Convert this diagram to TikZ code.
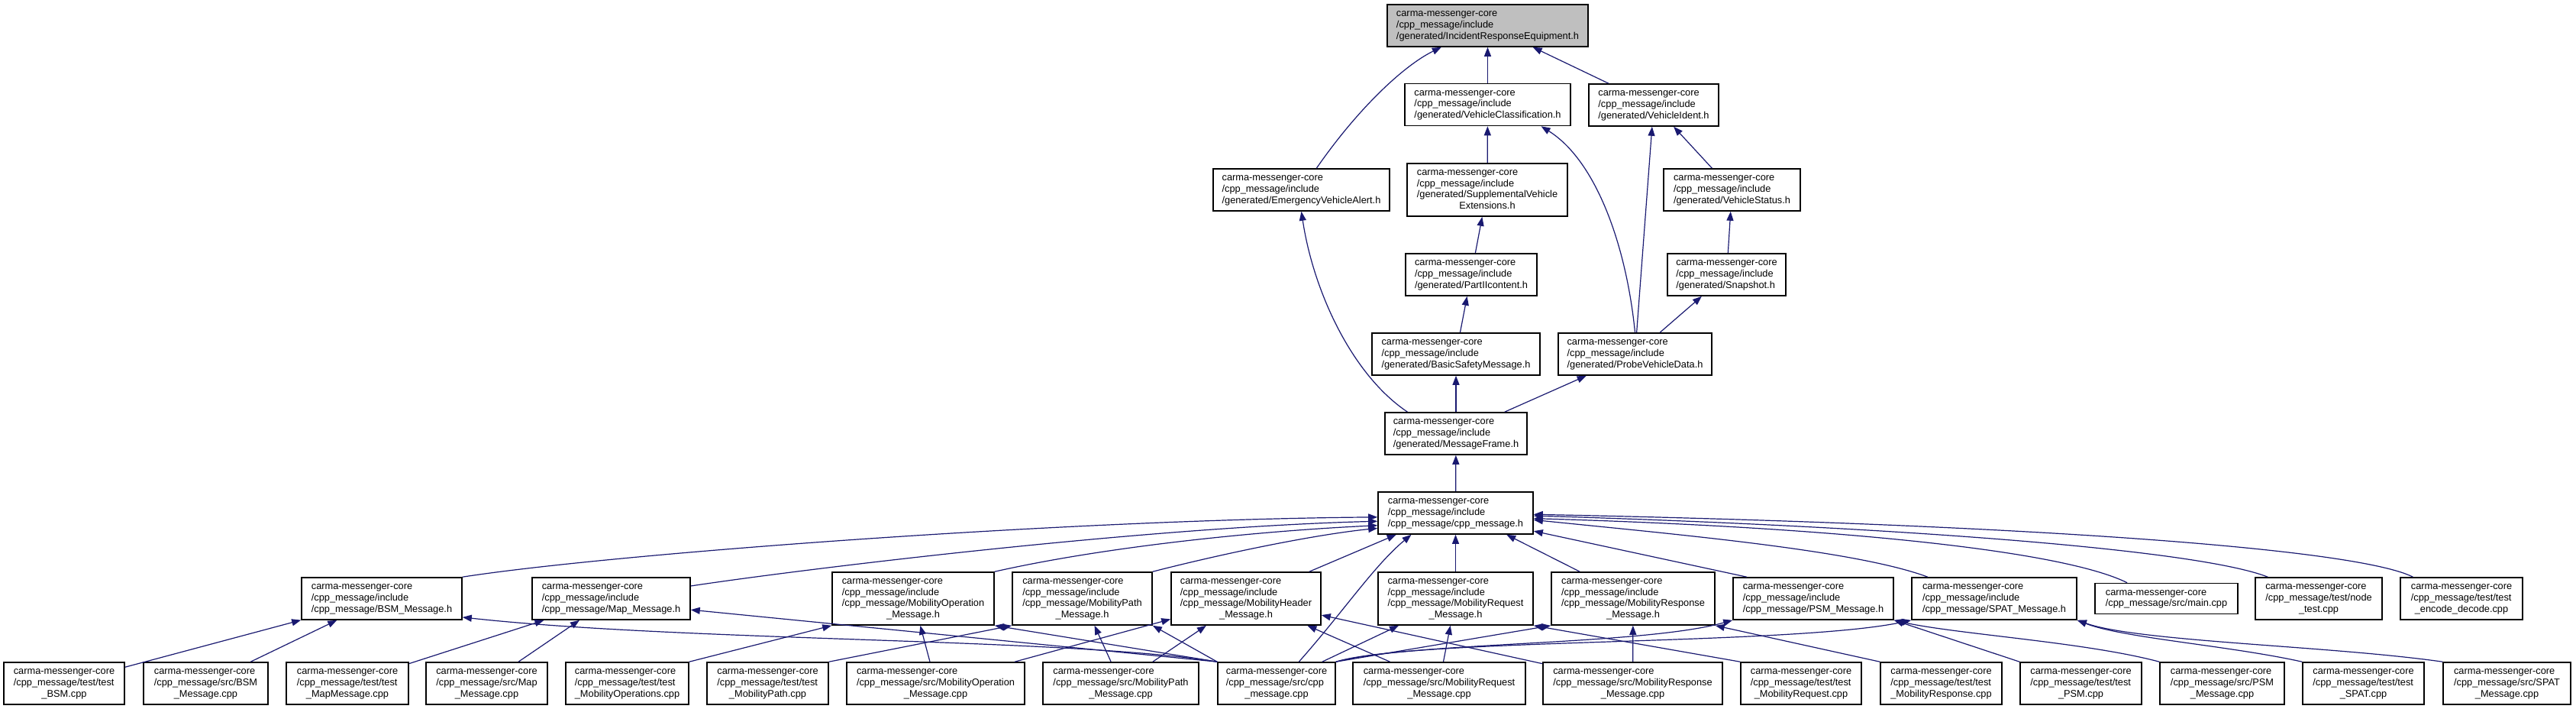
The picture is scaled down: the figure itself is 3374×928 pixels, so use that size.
\documentclass[tikz,border=0pt]{standalone}
\usepackage{fontspec}
\setmainfont{Liberation Sans}
\usetikzlibrary{arrows.meta}
\definecolor{edgeblue}{HTML}{191970}
\definecolor{rootgray}{HTML}{BFBFBF}
\newcommand{\cmc}{carma-messenger-core}
\newcommand{\lastln}[1]{\multicolumn{1}{@{}c@{}}{#1}}
\newcommand{\fname}[1]{\begin{tabular}{@{}l@{}}#1\end{tabular}}

\begin{document}
\begin{tikzpicture}[
    x=1pt,y=-1pt,
    filebox/.style={draw=black,line width=1.6pt,fill=white,minimum height=55pt,inner sep=0pt,
        font=\fontsize{12.8pt}{14.7pt}\selectfont},
    tallbox/.style={filebox,minimum height=69pt},
    lowbox/.style={filebox,minimum height=40pt},
    rootbox/.style={filebox,fill=rootgray},
    dep/.style={edgeblue,line width=1.2pt,-{Triangle[length=12pt,width=9pt]}}
]
\useasboundingbox (0,0) rectangle (3374,928);

\node[rootbox,minimum width=263pt] (ire) at (1948.5,33.5) {\fname{\cmc\\/cpp\_message/include\\/generated/IncidentResponseEquipment.h}};
\node[filebox,minimum width=217pt] (vc) at (1948.5,137) {\fname{\cmc\\/cpp\_message/include\\/generated/VehicleClassification.h}};
\node[filebox,minimum width=170pt] (vi) at (2166,137.5) {\fname{\cmc\\/cpp\_message/include\\/generated/VehicleIdent.h}};
\node[filebox,minimum width=231pt] (eva) at (1704.5,248.5) {\fname{\cmc\\/cpp\_message/include\\/generated/EmergencyVehicleAlert.h}};
\node[tallbox,minimum width=210pt] (sve) at (1948,248.5) {\fname{\cmc\\/cpp\_message/include\\/generated/SupplementalVehicle\\\lastln{Extensions.h}}};
\node[filebox,minimum width=179pt] (vs) at (2268.5,248.5) {\fname{\cmc\\/cpp\_message/include\\/generated/VehicleStatus.h}};
\node[filebox,minimum width=172pt] (p2) at (1927,359.5) {\fname{\cmc\\/cpp\_message/include\\/generated/PartIIcontent.h}};
\node[filebox,minimum width=155pt] (snap) at (2261.5,359.5) {\fname{\cmc\\/cpp\_message/include\\/generated/Snapshot.h}};
\node[filebox,minimum width=220pt] (bsmsg) at (1907,463.5) {\fname{\cmc\\/cpp\_message/include\\/generated/BasicSafetyMessage.h}};
\node[filebox,minimum width=201pt] (pvd) at (2141.5,463.5) {\fname{\cmc\\/cpp\_message/include\\/generated/ProbeVehicleData.h}};
\node[filebox,minimum width=186pt] (mf) at (1907,567.5) {\fname{\cmc\\/cpp\_message/include\\/generated/MessageFrame.h}};
\node[filebox,minimum width=203pt] (cpph) at (1906.5,671.5) {\fname{\cmc\\/cpp\_message/include\\/cpp\_message/cpp\_message.h}};

\node[filebox,minimum width=210pt] (bsmh) at (500,783.5) {\fname{\cmc\\/cpp\_message/include\\/cpp\_message/BSM\_Message.h}};
\node[filebox,minimum width=207pt] (maph) at (800.5,783.5) {\fname{\cmc\\/cpp\_message/include\\/cpp\_message/Map\_Message.h}};
\node[tallbox,minimum width=212pt] (mopsh) at (1196,783.5) {\fname{\cmc\\/cpp\_message/include\\/cpp\_message/MobilityOperation\\\lastln{\_Message.h}}};
\node[tallbox,minimum width=183pt] (mpathh) at (1417.5,783.5) {\fname{\cmc\\/cpp\_message/include\\/cpp\_message/MobilityPath\\\lastln{\_Message.h}}};
\node[tallbox,minimum width=196pt] (mheadh) at (1632,783.5) {\fname{\cmc\\/cpp\_message/include\\/cpp\_message/MobilityHeader\\\lastln{\_Message.h}}};
\node[tallbox,minimum width=203pt] (mreqh) at (1906.5,783.5) {\fname{\cmc\\/cpp\_message/include\\/cpp\_message/MobilityRequest\\\lastln{\_Message.h}}};
\node[tallbox,minimum width=214pt] (mresph) at (2139,783.5) {\fname{\cmc\\/cpp\_message/include\\/cpp\_message/MobilityResponse\\\lastln{\_Message.h}}};
\node[filebox,minimum width=210pt] (psmh) at (2375,783.5) {\fname{\cmc\\/cpp\_message/include\\/cpp\_message/PSM\_Message.h}};
\node[filebox,minimum width=216pt] (spath) at (2612,783.5) {\fname{\cmc\\/cpp\_message/include\\/cpp\_message/SPAT\_Message.h}};
\node[lowbox,minimum width=187pt] (main) at (2837.5,783.5) {\fname{\cmc\\/cpp\_message/src/main.cpp}};
\node[filebox,minimum width=166pt] (nodet) at (3037,783.5) {\fname{\cmc\\/cpp\_message/test/node\\\lastln{\_test.cpp}}};
\node[filebox,minimum width=160pt] (encdec) at (3224,783.5) {\fname{\cmc\\/cpp\_message/test/test\\\lastln{\_encode\_decode.cpp}}};

\node[filebox,minimum width=158pt] (tbsm) at (84,894.5) {\fname{\cmc\\/cpp\_message/test/test\\\lastln{\_BSM.cpp}}};
\node[filebox,minimum width=163pt] (sbsm) at (269.5,894.5) {\fname{\cmc\\/cpp\_message/src/BSM\\\lastln{\_Message.cpp}}};
\node[filebox,minimum width=160pt] (tmap) at (455,894.5) {\fname{\cmc\\/cpp\_message/test/test\\\lastln{\_MapMessage.cpp}}};
\node[filebox,minimum width=159pt] (smap) at (637.5,894.5) {\fname{\cmc\\/cpp\_message/src/Map\\\lastln{\_Message.cpp}}};
\node[filebox,minimum width=161pt] (tmops) at (821.5,894.5) {\fname{\cmc\\/cpp\_message/test/test\\\lastln{\_MobilityOperations.cpp}}};
\node[filebox,minimum width=159pt] (tmpath) at (1005.5,894.5) {\fname{\cmc\\/cpp\_message/test/test\\\lastln{\_MobilityPath.cpp}}};
\node[filebox,minimum width=233pt] (smops) at (1225.5,894.5) {\fname{\cmc\\/cpp\_message/src/MobilityOperation\\\lastln{\_Message.cpp}}};
\node[filebox,minimum width=204pt] (smpath) at (1468,894.5) {\fname{\cmc\\/cpp\_message/src/MobilityPath\\\lastln{\_Message.cpp}}};
\node[filebox,minimum width=154pt] (scpp) at (1672,894.5) {\fname{\cmc\\/cpp\_message/src/cpp\\\lastln{\_message.cpp}}};
\node[filebox,minimum width=226pt] (smreq) at (1885,894.5) {\fname{\cmc\\/cpp\_message/src/MobilityRequest\\\lastln{\_Message.cpp}}};
\node[filebox,minimum width=235pt] (smresp) at (2138.5,894.5) {\fname{\cmc\\/cpp\_message/src/MobilityResponse\\\lastln{\_Message.cpp}}};
\node[filebox,minimum width=158pt] (tmreq) at (2359,894.5) {\fname{\cmc\\/cpp\_message/test/test\\\lastln{\_MobilityRequest.cpp}}};
\node[filebox,minimum width=159pt] (tmresp) at (2542.5,894.5) {\fname{\cmc\\/cpp\_message/test/test\\\lastln{\_MobilityResponse.cpp}}};
\node[filebox,minimum width=159pt] (tpsm) at (2725.5,894.5) {\fname{\cmc\\/cpp\_message/test/test\\\lastln{\_PSM.cpp}}};
\node[filebox,minimum width=163pt] (spsm) at (2910.5,894.5) {\fname{\cmc\\/cpp\_message/src/PSM\\\lastln{\_Message.cpp}}};
\node[filebox,minimum width=159pt] (tspat) at (3095.5,894.5) {\fname{\cmc\\/cpp\_message/test/test\\\lastln{\_SPAT.cpp}}};
\node[filebox,minimum width=167pt] (sspat) at (3283.5,894.5) {\fname{\cmc\\/cpp\_message/src/SPAT\\\lastln{\_Message.cpp}}};

\draw[dep] (vc) -- (ire);
\draw[dep] (vi) -- (ire);
\draw[dep] (eva.55) .. controls (1780,140) and (1840,85) .. (ire.205);
\draw[dep] (sve) -- (vc);
\draw[dep] (pvd.north) .. controls (2130,320) and (2090,210) .. (vc.-22);
\draw[dep] (pvd) -- (vi);
\draw[dep] (vs) -- (vi);
\draw[dep] (p2) -- (sve);
\draw[dep] (snap) -- (vs);
\draw[dep] (bsmsg) -- (p2);
\draw[dep] (pvd) -- (snap);
\draw[dep] (mf.156) .. controls (1770,490) and (1720,380) .. (eva.south);
\draw[dep] (mf) -- (bsmsg);
\draw[dep] (mf) -- (pvd);
\draw[dep] (cpph) -- (mf);

\draw[dep] (bsmh.north east) .. controls (800,725) and (1400,680) .. (cpph.183);
\draw[dep] (maph.9) .. controls (1050,745) and (1500,690) .. (cpph.186);
\draw[dep] (mopsh.north east) .. controls (1450,715) and (1650,695) .. (cpph.189);
\draw[dep] (mpathh.north east) .. controls (1600,725) and (1720,700) .. (cpph.191);
\draw[dep] (mheadh) -- (cpph.200);
\draw[dep] (scpp.44) .. controls (1760,800) and (1800,740) .. (cpph.206);
\draw[dep] (mreqh) -- (cpph);
\draw[dep] (mresph) -- (cpph.-23);
\draw[dep] (psmh.162) -- (cpph.-13);
\draw[dep] (spath.162) .. controls (2430,720) and (2200,700) .. (cpph.-5);
\draw[dep] (main.158) .. controls (2700,720) and (2400,690) .. (cpph.-4);
\draw[dep] (nodet.157) .. controls (2880,720) and (2500,690) .. (cpph.-2);
\draw[dep] (encdec.156) .. controls (3080,715) and (2600,685) .. (cpph.-1);

\draw[dep] (tbsm) -- (bsmh);
\draw[dep] (sbsm) -- (bsmh);
\draw[dep] (scpp.north west) .. controls (1400,835) and (900,840) .. (bsmh.-13);
\draw[dep] (tmap) -- (maph);
\draw[dep] (smap) -- (maph);
\draw[dep] (scpp.north west) -- (maph.-8);
\draw[dep] (tmops.north east) -- (mopsh.south west);
\draw[dep] (smops) -- (mopsh);
\draw[dep] (scpp.north west) -- (mopsh.south east);
\draw[dep] (tmpath.north east) -- (mpathh.south west);
\draw[dep] (smpath) -- (mpathh);
\draw[dep] (scpp.north west) -- (mpathh.south east);
\draw[dep] (smops) -- (mheadh);
\draw[dep] (smpath) -- (mheadh);
\draw[dep] (smreq) -- (mheadh);
\draw[dep] (smresp) -- (mheadh);
\draw[dep] (scpp) -- (mreqh);
\draw[dep] (smreq) -- (mreqh);
\draw[dep] (tmreq.north west) -- (mreqh.south east);
\draw[dep] (scpp.north east) -- (mresph.south west);
\draw[dep] (smresp) -- (mresph);
\draw[dep] (tmresp.north west) -- (mresph.south east);
\draw[dep] (scpp.north east) .. controls (1850,840) and (2150,845) .. (psmh.south west);
\draw[dep] (tpsm.north west) -- (psmh.south east);
\draw[dep] (spsm.north west) .. controls (2730,840) and (2560,830) .. (psmh.south east);
\draw[dep] (scpp.north east) .. controls (1850,835) and (2350,845) .. (spath.south west);
\draw[dep] (tspat.north west) .. controls (2920,845) and (2780,835) .. (spath.south east);
\draw[dep] (sspat.north west) .. controls (3050,845) and (2800,840) .. (spath.south east);
\end{tikzpicture}
\end{document}
